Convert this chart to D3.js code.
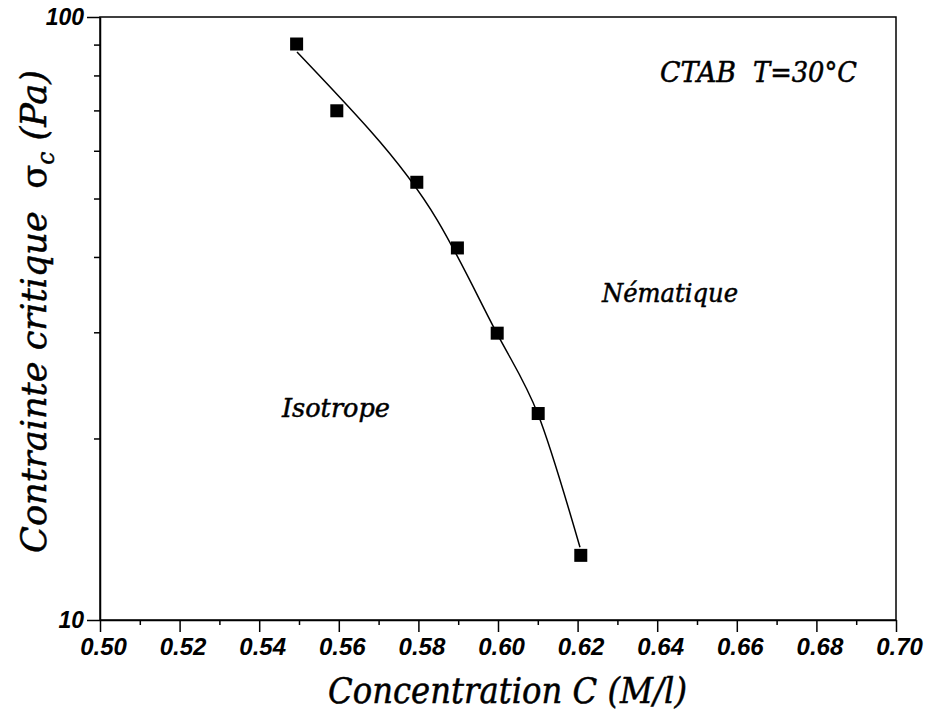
<!DOCTYPE html>
<html><head><meta charset="utf-8">
<script src="https://cdn.jsdelivr.net/npm/d3@7"></script>
<style>
body{margin:0;background:#fff;}
svg{display:block;}
.tk{font-family:"Liberation Sans",Arial,sans-serif;font-weight:bold;font-style:italic;}
.sf{font-family:"DejaVu Serif","Liberation Serif",serif;font-style:italic;white-space:pre;stroke:#000;stroke-width:0.5px;}
</style></head>
<body>
<svg id="chart" width="934" height="717"></svg>
<script>
// Measured points
const concentration = [0.5494, 0.5595, 0.5796, 0.5898, 0.5998, 0.6101, 0.6208];
const stress = [90.2, 69.9, 53.2, 41.4, 29.9, 22.0, 12.8];
// Fitted curve
const curveC = [0.5495, 0.5678, 0.5847, 0.5997, 0.6101, 0.6206];
const curveS = [87.5, 64.9, 46.1, 29.9, 21.9, 13.2];
const xTicks = [0.50, 0.52, 0.54, 0.56, 0.58, 0.60, 0.62, 0.64, 0.66, 0.68, 0.70];
const xMinor = [0.51, 0.53, 0.55, 0.57, 0.59, 0.61, 0.63, 0.65, 0.67, 0.69];
const yTicks = [10, 100];
const yMinor = [20, 30, 40, 50, 60, 70, 80, 90];

const svg = d3.select("#chart");
const L = 100, R = 896, T = 17, B = 620;
const x = d3.scaleLinear().domain([0.5, 0.7]).range([L, R]);
const y = d3.scaleLog().domain([10, 100]).range([B, T]);

// frame
svg.append("rect").attr("x", L).attr("y", T).attr("width", R - L).attr("height", B - T)
  .attr("fill", "none").attr("stroke", "#000").attr("stroke-width", 1.5);

// x axis
const gx = svg.append("g").attr("transform", `translate(0,${B})`)
  .call(d3.axisBottom(x).tickValues(xTicks).tickSize(12).tickSizeOuter(0).tickPadding(6).tickFormat(d3.format(".2f")));
gx.attr("font-family", null).attr("font-size", null);
gx.select(".domain").attr("stroke-width", 1.5);
gx.selectAll(".tick line").attr("stroke-width", 1.5);
gx.selectAll(".tick text").attr("class", "tk").attr("font-size", 24).attr("dx", 3).attr("fill", "#000");
svg.append("g").attr("transform", `translate(0,${B})`)
  .call(d3.axisBottom(x).tickValues(xMinor).tickSize(5).tickFormat(""))
  .call(g => { g.select(".domain").remove(); g.selectAll(".tick line").attr("stroke-width", 1.5); });

// y axis
const gy = svg.append("g").attr("transform", `translate(${L},0)`)
  .call(d3.axisLeft(y).tickValues(yTicks).tickSize(13).tickSizeOuter(0).tickPadding(3).tickFormat(d3.format("d")));
gy.attr("font-family", null).attr("font-size", null);
gy.select(".domain").attr("stroke-width", 1.5);
gy.selectAll(".tick line").attr("stroke-width", 1.5);
gy.selectAll(".tick text").attr("class", "tk").attr("font-size", 23).attr("fill", "#000");
svg.append("g").attr("transform", `translate(${L},0)`)
  .call(d3.axisLeft(y).tickValues(yMinor).tickSize(6).tickFormat(""))
  .call(g => { g.select(".domain").remove(); g.selectAll(".tick line").attr("stroke-width", 1.5); });

// curve
const curveData = curveC.map((c, i) => ({c, s: curveS[i]}));
svg.append("path").datum(curveData)
  .attr("d", d3.line().x(d => x(d.c)).y(d => y(d.s)).curve(d3.curveNatural))
  .attr("fill", "none").attr("stroke", "#000").attr("stroke-width", 1.5);

// points
const pts = concentration.map((c, i) => ({c, s: stress[i]}));
const sz = 13;
svg.selectAll("rect.pt").data(pts).enter().append("rect").attr("class", "pt")
  .attr("x", d => x(d.c) - sz / 2).attr("y", d => y(d.s) - sz / 2)
  .attr("width", sz).attr("height", sz).attr("fill", "#000");

// annotations: size by cap height, squeeze to the reference width
function ann(txt, px, py, size, width) {
  return svg.append("text").attr("class", "sf").attr("x", px).attr("y", py).text(txt)
    .attr("fill", "#000").attr("font-size", size)
    .attr("textLength", width).attr("lengthAdjust", "spacingAndGlyphs");
}
ann("CTAB", 660, 82, 27, 76);
ann("T=30°C", 753, 82, 27, 104);
ann("Nématique", 602, 302, 26, 136);
ann("Isotrope", 282, 417, 26, 108);

// x title
ann("Concentration C (M/l)", 328, 703, 35, 359);

// y title
const yt = svg.append("text").attr("class", "sf").attr("transform", "translate(46,553) rotate(-90)")
  .attr("fill", "#000").attr("font-size", 36)
  .attr("textLength", 483).attr("lengthAdjust", "spacingAndGlyphs");
yt.append("tspan").text("Contrainte critique  ");
yt.append("tspan").style("font-style", "normal").text("σ");
yt.append("tspan").attr("font-size", 24).attr("dy", 8).text("c");
yt.append("tspan").attr("dy", -8).text(" (Pa)");
</script>
</body></html>
